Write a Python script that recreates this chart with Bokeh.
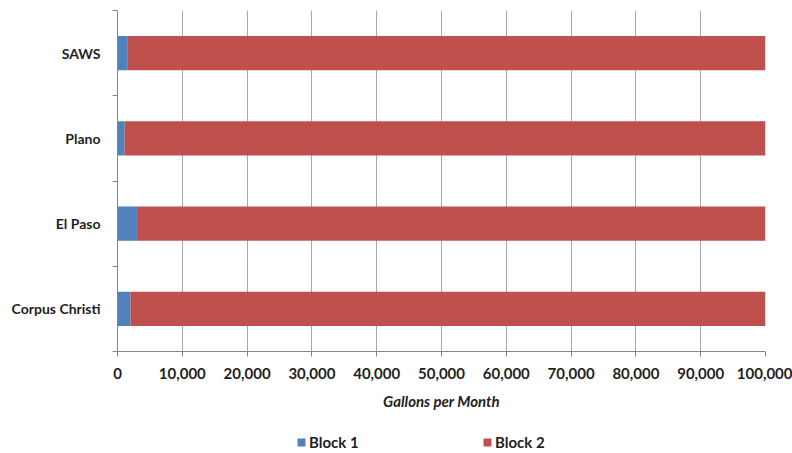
from bokeh.plotting import figure
from bokeh.layouts import column
from bokeh.models import (ColumnDataSource, Range1d, FixedTicker, NumeralTickFormatter,
                          Legend, LegendItem)
from bokeh.embed import file_html
from bokeh.resources import INLINE

# ---- data ----
cities = ["Corpus Christi", "El Paso", "Plano", "SAWS"]
block1 = [2000, 3000, 1100, 1500]
block2 = [98000, 97000, 98900, 98500]
x_ticks = list(range(0, 100001, 10000))
series = ["Block 1", "Block 2"]

BLUE = "#4F81BD"
RED = "#C0504D"
TEXT = "#1f1f1f"
AXIS = "#868686"
FONT = "Lato"

ypos = [i + 0.5 for i in range(len(cities))]
src = ColumnDataSource(dict(y=ypos, block1=block1, block2=block2))

p = figure(width=792, height=423, output_backend="svg", toolbar_location=None,
           x_range=Range1d(0, 100000), y_range=Range1d(0, len(cities)),
           min_border_left=117, min_border_right=27, min_border_top=10,
           min_border_bottom=72)
p.outline_line_color = None

rs = p.hbar_stack(["block1", "block2"], y="y", height=0.4, color=[BLUE, RED],
                  line_color=None, source=src)

# x axis
xa = p.xaxis[0]
xa.ticker = FixedTicker(ticks=x_ticks, minor_ticks=[])
xa.formatter = NumeralTickFormatter(format="0,0")
xa.axis_line_color = AXIS
xa.major_tick_line_color = AXIS
xa.major_tick_out = 5
xa.major_tick_in = 0
xa.minor_tick_line_color = None
xa.major_label_text_font = FONT
xa.major_label_text_font_style = "bold"
xa.major_label_text_font_size = "15px"
xa.major_label_text_color = TEXT
xa.major_label_standoff = 11
xa.axis_label = "Gallons per Month"
xa.axis_label_text_font = FONT
xa.axis_label_text_font_style = "bold italic"
xa.axis_label_text_font_size = "15px"
xa.axis_label_text_color = TEXT
xa.axis_label_standoff = 10

# y axis: labels at centres, ticks at boundaries
ya = p.yaxis[0]
ya.ticker = FixedTicker(ticks=ypos, minor_ticks=list(range(len(cities) + 1)))
ya.major_label_overrides = {yv: c for yv, c in zip(ypos, cities)}
ya.major_tick_line_color = None
ya.minor_tick_line_color = AXIS
ya.minor_tick_out = 5
ya.minor_tick_in = 0
ya.axis_line_color = AXIS
ya.major_label_text_font = FONT
ya.major_label_text_font_style = "bold"
ya.major_label_text_font_size = "14px"
ya.major_label_text_color = TEXT
ya.major_label_standoff = 11

p.xgrid.ticker = FixedTicker(ticks=x_ticks)
p.xgrid.grid_line_color = "#a8a8a8"
p.ygrid.grid_line_color = None

# legend strip (separate small figure below the chart)
p2 = figure(width=792, height=30, output_backend="svg", toolbar_location=None,
            x_range=Range1d(0, 100000), y_range=Range1d(0, len(cities)),
            min_border=0, x_axis_type=None, y_axis_type=None)
p2.outline_line_color = None
p2.xgrid.grid_line_color = None
p2.ygrid.grid_line_color = None
rs2 = p2.hbar_stack(["block1", "block2"], y="y", height=0.4, color=[BLUE, RED],
                    line_color=None, source=src, visible=False)

legend = Legend(items=[LegendItem(label=s, renderers=[r]) for s, r in zip(series, rs2)],
                orientation="horizontal", location=(179, 2),
                border_line_color=None, background_fill_alpha=0,
                glyph_width=10, glyph_height=10, label_height=14, label_width=91,
                label_standoff=3, spacing=82, padding=0, margin=0,
                label_text_font=FONT, label_text_font_style="bold",
                label_text_font_size="15px", label_text_color=TEXT)
p2.add_layout(legend, "center")

layout = column(p, p2, spacing=0)
open("out.html", "w").write(file_html(layout, INLINE))
